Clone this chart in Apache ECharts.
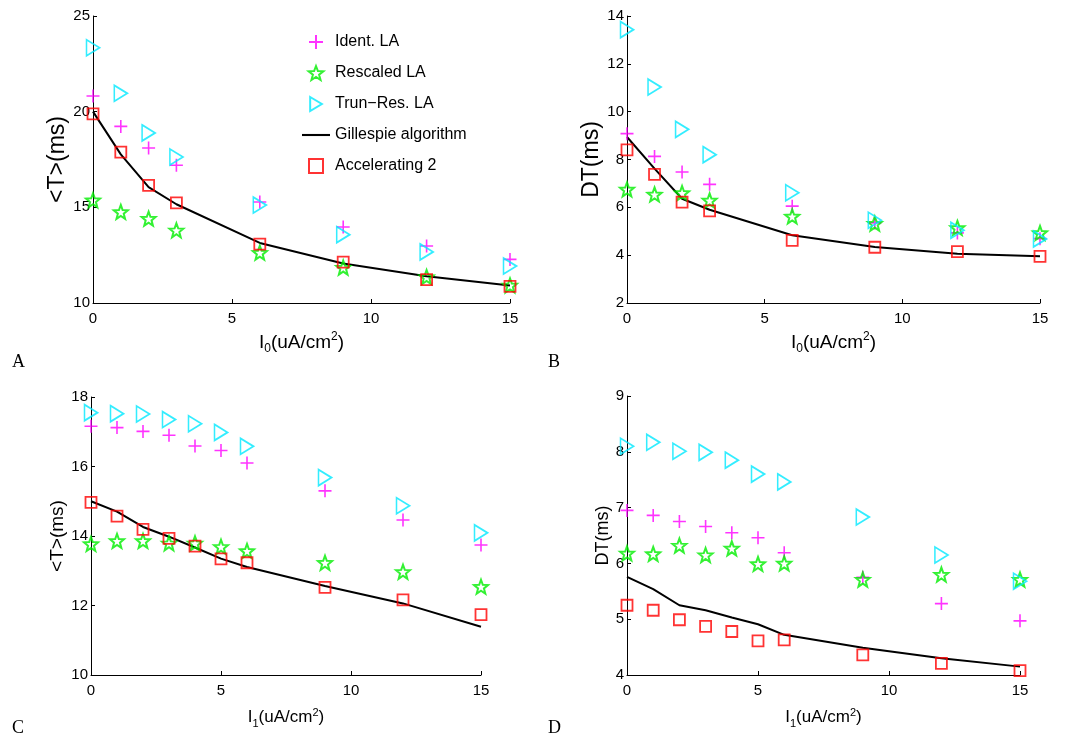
<!DOCTYPE html>
<html>
<head>
<meta charset="utf-8">
<script src="https://cdn.jsdelivr.net/npm/echarts@6/dist/echarts.min.js"></script>
<style>
  html, body { margin: 0; padding: 0; background: #fff; }
  #main { width: 1077px; height: 738px; }
</style>
</head>
<body>
<div id="main"></div>
<script>
// x positions
var xAB = [0, 1, 2, 3, 6, 9, 12, 15];
var xCD = [0, 1, 2, 3, 4, 5, 6, 9, 12, 15];

// panel A: <T>(ms) vs I0
var aIdent = [20.82, 19.23, 18.1, 17.2, 15.28, 13.97, 12.98, 12.28];
var aResc  = [15.37, 14.76, 14.41, 13.8, 12.63, 11.85, 11.36, 10.92];
var aTrun  = [23.34, 20.96, 18.89, 17.63, 15.12, 13.57, 12.67, 11.93];
var aAcc   = [19.88, 17.89, 16.15, 15.23, 13.08, 12.14, 11.22, 10.87];
var aGill  = [20.0, 17.77, 16.06, 15.16, 13.14, 12.06, 11.4, 10.92];

// panel B: DT(ms) vs I0
var bIdent = [9.08, 8.13, 7.48, 6.96, 6.05, 5.35, 4.93, 4.69];
var bResc  = [6.75, 6.54, 6.6, 6.29, 5.62, 5.32, 5.14, 4.93];
var bTrun  = [13.43, 11.03, 9.26, 8.2, 6.61, 5.46, 5.04, 4.68];
var bAcc   = [8.4, 7.38, 6.22, 5.85, 4.62, 4.33, 4.15, 3.95];
var bGill  = [8.94, 7.62, 6.36, 5.9, 4.83, 4.34, 4.06, 3.95];

// panel C: <T>(ms) vs I1
var cIdent = [17.16, 17.12, 17.01, 16.9, 16.59, 16.46, 16.1, 15.3, 14.46, 13.74];
var cResc  = [13.77, 13.86, 13.86, 13.79, 13.79, 13.69, 13.57, 13.23, 12.97, 12.54];
var cTrun  = [17.55, 17.52, 17.51, 17.35, 17.23, 16.98, 16.58, 15.68, 14.87, 14.09];
var cAcc   = [14.97, 14.57, 14.19, 13.93, 13.71, 13.34, 13.23, 12.52, 12.16, 11.74];
var cGill  = [15.0, 14.7, 14.26, 13.98, 13.67, 13.35, 13.11, 12.56, 12.06, 11.39];

// panel D: DT(ms) vs I1
var dIdent = [6.95, 6.86, 6.75, 6.66, 6.55, 6.46, 6.19, 5.75, 5.28, 4.97];
var dResc  = [6.18, 6.17, 6.32, 6.15, 6.27, 5.99, 6.0, 5.71, 5.8, 5.71];
var dTrun  = [8.1, 8.17, 8.01, 7.99, 7.85, 7.6, 7.46, 6.83, 6.15, 5.68];
var dAcc   = [5.25, 5.16, 4.99, 4.87, 4.78, 4.61, 4.63, 4.36, 4.21, 4.08];
var dGill  = [5.76, 5.54, 5.25, 5.16, 5.03, 4.91, 4.72, 4.49, 4.3, 4.15];

var names = ['Ident. LA', 'Rescaled LA', 'Trun\u2212Res. LA', 'Gillespie algorithm', 'Accelerating 2'];

// marker shapes
function starPath() {
  var pts = [];
  for (var i = 0; i < 10; i++) {
    var r = i % 2 === 0 ? 10 : 4.2;
    var a = -Math.PI / 2 + i * Math.PI / 5;
    pts.push((10 + r * Math.cos(a)).toFixed(2) + ',' + (10 + r * Math.sin(a)).toFixed(2));
  }
  return 'path://M' + pts.join('L') + 'Z';
}
var plusSym = 'path://M0,5L10,5M5,0L5,10';
var triSym = 'path://M0,0L10,6L0,12Z';
var rectSym = 'path://M0,0L10,0L10,10L0,10Z';
var starSym = starPath();

var font = 'Liberation Sans, Arial, sans-serif';

function zip(xs, ys) {
  return xs.map(function (x, i) { return [x, ys[i]]; });
}

function sc(name, idx, xs, ys, sym, size, color, bw) {
  return {
    name: name, type: 'scatter', xAxisIndex: idx, yAxisIndex: idx,
    data: zip(xs, ys), symbol: sym, symbolSize: size, clip: false,
    itemStyle: { color: 'rgba(0,0,0,0)', borderColor: color, borderWidth: bw },
    z: 3
  };
}

function panelSeries(idx, xs, ident, resc, trun, gill, acc) {
  return [
    sc(names[0], idx, xs, ident, plusSym, 13, '#ff00ff', 1.6),
    sc(names[1], idx, xs, resc, starSym, 14, '#00ee00', 2),
    sc(names[2], idx, xs, trun, triSym, [13, 16], '#00e8ff', 1.7),
    {
      name: names[3], type: 'line', xAxisIndex: idx, yAxisIndex: idx,
      data: zip(xs, gill), symbol: 'none', smooth: false,
      lineStyle: { color: '#000', width: 2 }, itemStyle: { color: '#000' }, z: 2
    },
    sc(names[4], idx, xs, acc, rectSym, 11, '#ff0000', 1.8)
  ];
}

function xName(sub) {
  return '{n|I}{s|' + sub + '}{n|(uA/cm}{p|2}{n|)}';
}
function xRich(size) {
  var small = Math.round(size * 0.65);
  return {
    n: { fontSize: size, fontFamily: font, color: '#000' },
    s: { fontSize: small, fontFamily: font, color: '#000', padding: [Math.round(size * 0.7), 0, 0, 0] },
    p: { fontSize: small, fontFamily: font, color: '#000', padding: [0, 0, Math.round(size * 0.6), 0] }
  };
}

function xAxis(idx, sub, nsize, gap) {
  return {
    gridIndex: idx, type: 'value', min: 0, max: 15, interval: 5,
    name: xName(sub), nameLocation: 'middle', nameGap: gap,
    nameTextStyle: { rich: xRich(nsize) },
    axisLine: { lineStyle: { color: '#000', width: 1 } },
    axisTick: { inside: true, length: 4, lineStyle: { color: '#000' } },
    axisLabel: { color: '#000', fontSize: 15, fontFamily: font, margin: 8 },
    splitLine: { show: false }
  };
}
function yAxis(idx, min, max, interval, name, nsize, gap) {
  return {
    gridIndex: idx, type: 'value', min: min, max: max, interval: interval,
    name: name, nameLocation: 'middle', nameGap: gap,
    nameTextStyle: { color: '#000', fontSize: nsize, fontFamily: font },
    axisLine: { show: true, lineStyle: { color: '#000', width: 1 } },
    axisTick: { show: true, inside: true, length: 4, lineStyle: { color: '#000' } },
    axisLabel: { color: '#000', fontSize: 15, fontFamily: font, margin: 3 },
    splitLine: { show: false }
  };
}

var serif = 'Liberation Serif, serif';

var chart = echarts.init(document.getElementById('main'));
chart.setOption({
  backgroundColor: '#fff',
  animation: false,
  grid: [
    { left: 93, top: 16, width: 417, height: 287 },
    { left: 627, top: 16, width: 413, height: 287 },
    { left: 91, top: 397, width: 390, height: 278 },
    { left: 627, top: 396, width: 393, height: 279 }
  ],
  xAxis: [
    xAxis(0, '0', 19, 27),
    xAxis(1, '0', 19, 27),
    xAxis(2, '1', 17, 31),
    xAxis(3, '1', 17, 31)
  ],
  yAxis: [
    yAxis(0, 10, 25, 5, '<T>(ms)', 23, 24),
    yAxis(1, 2, 14, 2, 'DT(ms)', 23, 23),
    yAxis(2, 10, 18, 2, '<T>(ms)', 19, 22),
    yAxis(3, 4, 9, 1, 'DT(ms)', 18, 15)
  ],
  legend: {
    orient: 'vertical', left: 297, top: 29, itemGap: 15,
    itemWidth: 28, itemHeight: 14,
    textStyle: { color: '#000', fontSize: 16, fontFamily: font },
    data: [
      { name: names[0] },
      { name: names[1] },
      { name: names[2] },
      { name: names[3], icon: 'path://M0,0L40,0L40,3L0,3Z', itemStyle: { color: '#000', borderWidth: 0 } },
      { name: names[4] }
    ]
  },
  graphic: [
    { type: 'text', left: 12, top: 353, style: { text: 'A', fontSize: 18, fontFamily: serif, fill: '#000' } },
    { type: 'text', left: 548, top: 353, style: { text: 'B', fontSize: 18, fontFamily: serif, fill: '#000' } },
    { type: 'text', left: 12, top: 719, style: { text: 'C', fontSize: 18, fontFamily: serif, fill: '#000' } },
    { type: 'text', left: 548, top: 719, style: { text: 'D', fontSize: 18, fontFamily: serif, fill: '#000' } }
  ],
  series: [].concat(
    panelSeries(0, xAB, aIdent, aResc, aTrun, aGill, aAcc),
    panelSeries(1, xAB, bIdent, bResc, bTrun, bGill, bAcc),
    panelSeries(2, xCD, cIdent, cResc, cTrun, cGill, cAcc),
    panelSeries(3, xCD, dIdent, dResc, dTrun, dGill, dAcc)
  )
});
</script>
</body>
</html>
